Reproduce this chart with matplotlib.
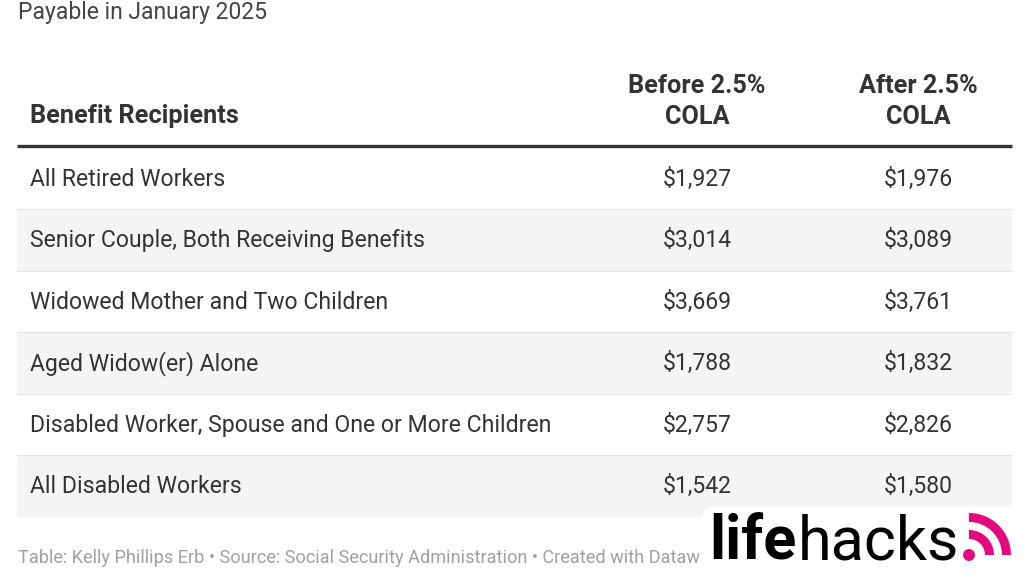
import matplotlib.pyplot as plt
from matplotlib.patches import Rectangle, FancyBboxPatch, Wedge, Circle

plt.rcParams['font.family'] = ['Roboto', 'DejaVu Sans']

title = 'Payable in January 2025'
col_headers = ['Benefit Recipients', 'Before 2.5%\nCOLA', 'After 2.5%\nCOLA']
recipients = [
    'All Retired Workers',
    'Senior Couple, Both Receiving Benefits',
    'Widowed Mother and Two Children',
    'Aged Widow(er) Alone',
    'Disabled Worker, Spouse and One or More Children',
    'All Disabled Workers',
]
before_cola = [1927, 3014, 3669, 1788, 2757, 1542]
after_cola = [1976, 3089, 3761, 1832, 2826, 1580]
footer = ('Table: Kelly Phillips Erb \u2022 Source: Social Security Administration '
          '\u2022 Created with Dataw')


def main():
    fig = plt.figure(figsize=(10.24, 5.76), dpi=100)
    ax = fig.add_axes([0, 0, 1, 1])
    ax.set_xlim(0, 1024)
    ax.set_ylim(576, 0)
    ax.axis('off')

    text_col = '#333333'
    left, right = 17, 1012
    col_x = [30, 697, 918]
    header_line = 146
    row_h = 61.5

    ax.text(18, 12, title, fontsize=16.5, color='#444444', va='center', ha='left')

    # header
    ax.text(col_x[0], 116, col_headers[0], fontsize=18.2, fontweight='bold',
            color=text_col, va='center', ha='left')
    for x, h in zip(col_x[1:], col_headers[1:]):
        ax.text(x, 101.5, h, fontsize=18.2, fontweight='bold', color=text_col,
                va='center', ha='center', linespacing=1.33)
    ax.plot([left, right], [header_line, header_line], color='#333333', lw=2.4,
            solid_capstyle='butt')

    # rows
    for i, (name, b, a) in enumerate(zip(recipients, before_cola, after_cola)):
        top = header_line + 1.5 + i * row_h
        face = '#f5f5f5' if i % 2 == 1 else 'white'
        ax.add_patch(Rectangle((left, top), right - left, row_h, facecolor=face,
                               edgecolor='none', zorder=0))
        if i > 0:
            ax.plot([left, right], [top, top], color='#e3e3e3', lw=0.8, zorder=1)
        cy = top + row_h / 2 + 1
        ax.text(col_x[0], cy, name, fontsize=16.6, color=text_col, va='center', ha='left')
        ax.text(col_x[1], cy, '${:,}'.format(b), fontsize=16.6, color=text_col,
                va='center', ha='center')
        ax.text(col_x[2], cy, '${:,}'.format(a), fontsize=16.6, color=text_col,
                va='center', ha='center')

    ax.text(18, 558, footer, fontsize=13.1, color='#a0a0a0', va='center', ha='left')

    # logo
    ax.add_patch(FancyBboxPatch((702, 506), 330, 80, boxstyle='round,pad=0,rounding_size=14',
                                facecolor='white', edgecolor='none', zorder=3))
    life = ax.text(709, 560, 'life', fontsize=44, fontweight='bold', color='black',
                   va='baseline', ha='left', zorder=4)
    fig.canvas.draw()
    bb = life.get_window_extent().transformed(ax.transData.inverted())
    ax.text(bb.x1 + 1, 560, 'hacks', fontsize=44, color='black', va='baseline',
            ha='left', zorder=4)
    pink = '#e5097f'
    cx, cy = 969, 555
    ax.add_patch(Circle((cx, cy), 6, facecolor=pink, edgecolor='none', zorder=4))
    for r in (25, 42):
        ax.add_patch(Wedge((cx, cy), r, 270, 360, width=9, facecolor=pink,
                           edgecolor='none', zorder=4))

    fig.savefig('out.png', dpi=100)


if __name__ == '__main__':
    main()
